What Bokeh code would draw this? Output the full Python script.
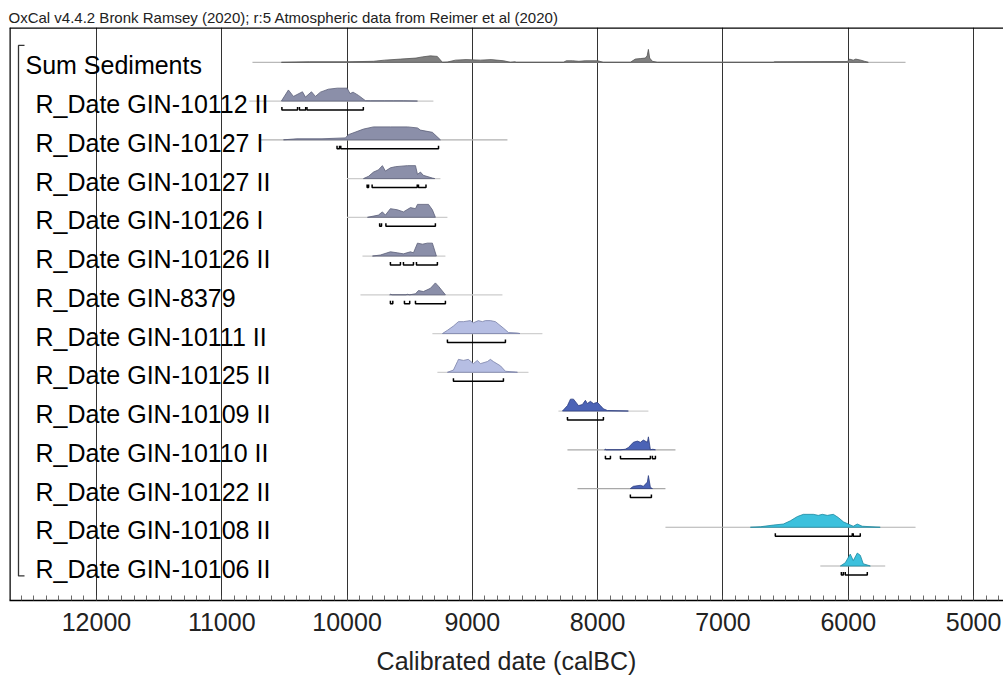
from bokeh.plotting import figure
from bokeh.models import Range1d, FixedTicker, ColumnDataSource, Span
from bokeh.core.properties import value
from bokeh.embed import file_html
from bokeh.resources import INLINE

FONT = "Liberation Sans"

title_text = "OxCal v4.4.2 Bronk Ramsey (2020); r:5 Atmospheric data from Reimer et al (2020)"
x_title = "Calibrated date (calBC)"
major_ticks = [12000, 11000, 10000, 9000, 8000, 7000, 6000, 5000]
minor_ticks = list(range(4800, 12800, 100))

labels = ["Sum Sediments", "R_Date GIN-10112 II", "R_Date GIN-10127 I", "R_Date GIN-10127 II",
          "R_Date GIN-10126 I", "R_Date GIN-10126 II", "R_Date GIN-8379", "R_Date GIN-10111 II",
          "R_Date GIN-10125 II", "R_Date GIN-10109 II", "R_Date GIN-10110 II", "R_Date GIN-10122 II",
          "R_Date GIN-10108 II", "R_Date GIN-10106 II"]

# distributions: dates (calBC) and relative probability
d_sum = [10524, 10300, 10000, 9790, 9700, 9574, 9450, 9400, 9335, 9280, 9239, 9200, 9135, 9050, 8936, 8850, 8750, 8696, 8660, 8650, 8273, 8250, 8200, 8150, 8100, 8000, 7954, 7739, 7700, 7660, 7620, 7605, 7595, 7585, 7563, 7523, 6598, 6590, 6008, 5990, 5960, 5940, 5900, 5870, 5840]
p_sum = [0, .04, .04, .08, .17, .25, .33, .42, .5, .46, 0, .02, .17, .21, .17, .21, .12, 0, .04, 0, 0, .12, .12, .08, .12, .12, 0, 0, .25, .29, .33, .5, 1, .33, .08, 0, 0, .04, .06, .25, .17, .25, .17, .08, 0]
d_10112 = [10524, 10468, 10428, 10356, 10332, 10284, 10252, 10213, 10149, 10077, 10000, 9976, 9952, 9909, 9853, 9813, 9700, 9630, 9550, 9438]
p_10112 = [0, .86, .36, .72, .31, .72, .36, .69, .92, 1, 1, .58, .69, .44, .03, .02, .02, .02, .02, 0]
d_10127a = [10507, 10400, 10200, 10013, 9989, 9869, 9789, 9654, 9518, 9438, 9414, 9319, 9255]
p_10127a = [0, .08, .08, .15, .4, .83, 1, 1, 1, .92, .75, .58, 0]
d_10127b = [9869, 9829, 9789, 9750, 9718, 9694, 9654, 9614, 9518, 9454, 9438, 9414, 9391, 9319, 9300]
p_10127b = [0, .17, .5, .67, 1, .58, .83, .92, 1, 1, .33, .5, .25, .04, 0]
d_10126a = [9837, 9750, 9718, 9694, 9654, 9598, 9550, 9494, 9454, 9438, 9350, 9319, 9295]
p_10126a = [0, .17, .42, .17, .67, .58, .42, .75, .67, 1, 1, .58, 0]
d_10126b = [9797, 9734, 9654, 9598, 9550, 9494, 9470, 9438, 9398, 9359, 9319, 9287]
p_10126b = [0, .08, .33, .25, .17, .33, .25, 1, .92, 1, 1, 0]
d_8379 = [9660, 9654, 9640, 9530, 9518, 9500, 9454, 9430, 9391, 9335, 9295, 9271, 9215]
p_8379 = [0, .04, 0, 0, .04, 0, .08, .33, .25, .5, .92, .67, 0]
d_10111 = [9239, 9199, 9151, 9111, 9071, 9016, 8992, 8952, 8920, 8896, 8856, 8816, 8752, 8712, 8640, 8620]
p_10111 = [0, .25, .58, .92, .92, 1, .83, 1, .92, 1, 1, .92, .42, .08, .04, 0]
d_10125 = [9199, 9151, 9119, 9111, 9071, 9032, 8992, 8960, 8936, 8880, 8856, 8832, 8776, 8736, 8656, 8640]
p_10125 = [0, .17, .83, 1, .92, 1, .67, .92, .67, .83, 1, .83, .5, .08, .02, 0]
d_10109 = [8281, 8241, 8217, 8193, 8153, 8122, 8098, 8082, 8058, 8034, 8002, 7978, 7954, 7922, 7755]
p_10109 = [0, .42, .92, .92, .42, .5, .83, .58, .75, .58, .67, .42, .17, .04, 0]
d_10110 = [7945, 7938, 7930, 7818, 7780, 7755, 7715, 7683, 7659, 7635, 7603, 7595, 7579, 7560, 7539]
p_10110 = [0, .04, 0, 0, .04, .17, .58, .67, .58, .75, .58, 1, 0, .04, 0]
d_10122 = [7739, 7715, 7659, 7635, 7603, 7595, 7579, 7563]
p_10122 = [0, .17, .25, .17, .5, 1, .08, 0]
d_10108 = [6781, 6701, 6598, 6518, 6462, 6406, 6358, 6279, 6239, 6207, 6167, 6119, 6079, 6039, 6000, 5960, 5928, 5888, 5745]
p_10108 = [0, .04, .17, .25, .5, .83, 1, 1, .92, 1, .92, 1, .75, .42, .25, .08, .25, .08, 0]
d_10106 = [6063, 6024, 5984, 5960, 5928, 5904, 5880, 5848, 5824]
p_10106 = [0, .25, .92, .42, 1, .83, .17, .08, 0]

# extent of each thin baseline (calBC)
line_from = [10755, 10780, 10700, 10000, 10000, 9877, 9893, 9319, 9279, 8313, 8241, 8161, 7459, 6223]
line_to = [5543, 9311, 8720, 9255, 9199, 9215, 8760, 8441, 8552, 7595, 7379, 7459, 5463, 5705]

# 95.4% ranges
ranges = [
    [],
    [(10520, 10395), (10380, 10330), (10320, 9870)],
    [(10080, 10060), (10050, 9270)],
    [(9840, 9828), (9800, 9440), (9430, 9370)],
    [(9740, 9725), (9690, 9295)],
    [(9654, 9574), (9550, 9470), (9446, 9279)],
    [(9654, 9635), (9542, 9500), (9454, 9215)],
    [(9199, 8736)],
    [(9151, 8752)],
    [(8241, 7954)],
    [(7938, 7898), (7818, 7579), (7563, 7539)],
    [(7739, 7571)],
    [(6582, 5968), (5960, 5904)],
    [(6055, 6039), (6024, 5848)],
]

fills = ["#808080"] + ["#8b8fa9"] * 6 + ["#b6bee3"] * 2 + ["#4b63b6"] * 3 + ["#3cc1dd"] * 2
edges = ["#555555"] + ["#5c6078"] * 6 + ["#7a82a8"] * 2 + ["#2e3f82"] * 3 + ["#2089a0"] * 2
base_cols = ["#b8b8b8", "#c8c8c8", "#b0b0b0", "#cccccc", "#cccccc", "#cccccc", "#cccccc", "#d0d0d0", "#d0d0d0", "#d0d0d0", "#a8a8a8", "#a8a8a8", "#b0b0b0", "#b0b0b0"]

dists = [(d_sum, p_sum), (d_10112, p_10112), (d_10127a, p_10127a), (d_10127b, p_10127b),
         (d_10126a, p_10126a), (d_10126b, p_10126b), (d_8379, p_8379), (d_10111, p_10111),
         (d_10125, p_10125), (d_10109, p_10109), (d_10110, p_10110), (d_10122, p_10122),
         (d_10108, p_10108), (d_10106, p_10106)]

# geometry
ROW_PX = 38.95
X0, X1 = 12694, 4761
PX_PER_YEAR = 994.0 / (X0 - X1)
Y_TOP, Y_BOT = -0.899, 13.89
HSCALE = 13.0 / ROW_PX
BR_OFF = 9.0 / ROW_PX
BR_TICK = 3.0 / ROW_PX

p = figure(width=1003, height=677, output_backend="svg", toolbar_location=None,
           x_range=Range1d(X0, X1), y_range=Range1d(Y_BOT, Y_TOP),
           y_axis_location=None, min_border_left=9, min_border_right=0,
           min_border_top=27, min_border_bottom=74)
p.background_fill_color = "white"
p.border_fill_color = "white"
p.outline_line_color = None

# frame edges: left and top only (right edge runs off the page)
p.add_layout(Span(location=X0, dimension="height", line_color="black", line_width=2.5))
p.add_layout(Span(location=Y_TOP, dimension="width", line_color="black", line_width=2.5))

p.title.text = title_text
p.title.text_font = FONT
p.title.text_font_size = "15px"
p.title.text_font_style = "normal"
p.title.text_color = "#222222"
p.title.offset = -1
p.title.standoff = 3

ax = p.xaxis[0]
ax.ticker = FixedTicker(ticks=major_ticks, minor_ticks=minor_ticks)
ax.axis_label = x_title
ax.axis_label_text_font = FONT
ax.axis_label_text_font_size = "25px"
ax.axis_label_text_font_style = "normal"
ax.axis_label_text_color = "#222222"
ax.axis_label_standoff = 13
ax.major_label_text_font = FONT
ax.major_label_text_font_size = "25px"
ax.major_label_text_color = "#222222"
ax.major_label_standoff = 12
ax.major_tick_in = 8
ax.major_tick_out = 0
ax.minor_tick_in = 5
ax.minor_tick_out = 0
ax.axis_line_color = "black"
ax.axis_line_width = 1.5
ax.major_tick_line_color = "#333333"
ax.minor_tick_line_color = "#444444"
ax.minor_tick_line_width = 0.8

p.xgrid.ticker = FixedTicker(ticks=major_ticks)
p.xgrid.grid_line_color = "#333333"
p.xgrid.grid_line_width = 1
p.ygrid.visible = False

# thin baselines
p.segment(x0=line_from, y0=list(range(len(labels))), x1=line_to, y1=list(range(len(labels))),
          line_color=base_cols, line_width=1.2)

# distributions
xs, ys = [], []
for i, (d, pr) in enumerate(dists):
    xs.append([d[0]] + list(d) + [d[-1]])
    ys.append([i] + [i - v * HSCALE for v in pr] + [i])
p.patches(xs=xs, ys=ys, fill_color=fills, line_color=edges, line_width=0.8)

# range brackets
bx, by = [], []
for i, rr in enumerate(ranges):
    yb = i + BR_OFF
    for a, b in rr:
        bx.append([a, a, b, b])
        by.append([yb - BR_TICK, yb, yb, yb - BR_TICK])
p.multi_line(xs=bx, ys=by, line_color="black", line_width=1.5)

# labels
lab_y = [i + 3.0 / ROW_PX for i in range(len(labels))]
offs = [16] + [26] * (len(labels) - 1)
src = ColumnDataSource(dict(x=[X0] * len(labels), y=lab_y, t=labels, o=offs))
p.text(x="x", y="y", text="t", x_offset="o", source=src, text_font=value(FONT),
       text_font_size="25px", text_baseline="middle", text_align="left", text_color="black")

# group bracket on the left
gx = X0 - 9 / PX_PER_YEAR
gx2 = X0 - 15 / PX_PER_YEAR
g_top = -17.0 / ROW_PX
g_bot = len(labels) - 1 + 10.0 / ROW_PX
p.line(x=[gx2, gx, gx, gx2], y=[g_top, g_top, g_bot, g_bot], line_color="#333333", line_width=1.3)

open("out.html", "w").write(file_html(p, INLINE))
